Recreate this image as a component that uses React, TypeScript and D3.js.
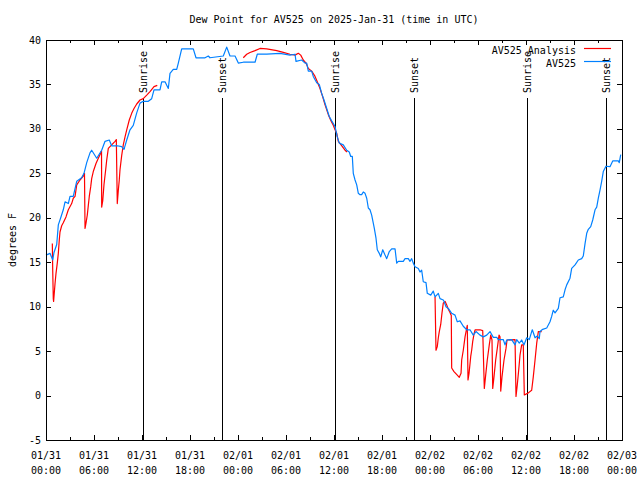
import React from "react";
import * as d3 from "d3";

const TITLE = "Dew Point for AV525 on 2025-Jan-31 (time in UTC)";
const Y_LABEL = "degrees F";
const START = Date.UTC(2025, 0, 31, 0, 0);
const END = Date.UTC(2025, 1, 3, 0, 0);
const Y_TICKS = [-5, 0, 5, 10, 15, 20, 25, 30, 35, 40];

// [hours since 01/31 00:00 UTC, dew point F]
const obsHours = [0.0,0.5,0.84,1.0,1.34,1.54,1.84,2.16,2.38,2.79,3.0,3.41,3.84,4.46,4.75,5.09,5.5,5.71,6.34,6.96,7.38,7.91,8.21,8.91,9.46,9.75,10.09,10.5,10.91,11.34,11.75,12.16,12.79,13.21,13.5,14.25,14.46,14.88,15.29,15.5,15.91,16.34,16.54,16.96,18.41,18.75,19.88,20.29,20.5,22.16,22.59,23.0,23.63,24.04,24.66,26.13,26.41,27.59,29.25,30.5,31.13,31.25,31.96,32.38,32.59,32.79,33.21,33.41,33.84,34.16,34.46,34.75,35.09,35.41,35.71,35.91,36.13,36.41,36.66,37.16,37.59,37.91,38.09,38.29,38.41,38.63,38.84,39.04,39.25,39.46,39.66,39.88,40.09,40.29,40.5,40.71,40.91,41.04,41.25,41.41,41.66,41.84,42.09,42.38,42.59,42.91,43.21,43.63,43.84,44.04,44.66,44.88,45.29,45.5,45.71,45.91,46.13,46.54,46.75,46.96,47.16,47.5,47.66,48.09,48.41,48.63,49.04,49.25,49.66,49.75,50.0,50.29,50.71,51.13,51.41,51.75,52.16,52.59,53.0,53.41,53.75,54.25,54.66,55.09,55.5,55.91,56.34,56.54,57.16,57.38,57.59,58.21,58.63,58.84,59.16,59.46,59.75,60.09,60.41,60.71,60.79,61.13,61.41,61.66,61.75,62.09,62.59,63.0,63.21,63.41,63.63,64.04,64.25,64.66,64.88,65.09,65.5,65.71,66.13,66.54,66.96,67.16,67.38,67.59,67.79,68.09,68.34,68.63,68.84,69.04,69.25,69.46,69.66,70.0,70.5,70.84,71.54,71.66,71.84];
const obsValues = [15.8,16.0,15.25,16.1,17.0,19.2,20.0,20.9,21.8,21.6,22.4,22.4,24.1,24.5,25.0,26.2,27.3,27.6,26.7,27.6,28.6,28.75,28.1,28.1,28.0,27.7,28.75,29.9,30.4,31.8,32.9,33.1,33.1,33.4,34.4,34.4,35.3,35.3,34.55,36.25,36.7,36.7,37.4,39.0,39.0,38.0,38.0,38.2,38.0,38.2,39.2,38.2,38.2,37.4,37.5,37.5,38.4,38.4,38.5,38.3,38.4,37.6,37.75,37.4,37.4,36.5,36.5,35.9,35.2,35.0,34.0,33.25,32.3,31.4,30.9,30.6,30.25,29.1,28.4,28.2,27.6,27.4,26.9,26.9,25.0,24.25,23.7,22.75,22.6,22.6,22.9,22.75,22.2,21.1,20.9,20.3,19.4,18.8,17.7,16.4,16.0,15.6,16.4,15.8,15.4,16.2,16.5,16.5,14.9,15.1,15.1,15.4,15.4,15.1,15.4,14.9,14.5,14.3,13.9,14.1,12.8,12.7,11.5,11.3,11.75,11.1,11.5,10.9,10.75,10.6,10.0,9.8,9.25,9.05,8.3,8.4,7.8,7.4,7.4,6.8,7.2,6.8,6.6,6.8,7.2,6.55,6.55,6.3,6.3,5.7,6.25,6.3,5.7,6.3,5.9,6.25,5.7,6.5,6.3,7.2,7.4,6.5,6.7,6.4,7.2,7.45,7.6,8.3,8.9,9.6,9.3,9.8,11.0,11.1,11.9,12.45,13.2,14.3,14.7,15.25,15.4,15.7,17.1,18.25,18.7,19.0,19.75,20.9,21.2,22.2,23.1,24.1,25.2,25.8,25.75,26.4,26.4,26.2,27.1];

const ana1Hours = [0.79,0.84,0.91,0.95,1.13,1.25,1.41,1.54,1.66,1.75,1.96,2.16,2.5,2.79,3.21,3.41,3.63,3.84,4.25,4.66,4.81,4.88,5.0,5.16,5.29,5.41,5.59,5.71,5.91,6.25,6.54,6.84,6.94,6.96,7.09,7.25,7.46,7.59,7.79,8.21,8.63,8.79,8.91,9.04,9.16,9.25,9.46,9.66,9.88,10.09,10.41,10.71,11.0,11.34,11.75,12.16,12.59,13.0,13.5,13.91];
const ana1Values = [17.1,14.1,10.9,10.6,12.6,13.75,14.9,16.0,17.5,18.4,19.1,19.45,20.1,20.9,21.6,22.2,22.4,23.7,24.25,24.7,25.0,18.8,19.4,20.3,21.4,22.4,23.5,24.4,25.2,26.1,26.7,27.3,27.5,21.2,21.9,23.75,25.4,26.5,27.8,28.2,28.6,28.8,21.6,23.1,24.25,25.4,27.0,28.2,29.1,29.9,31.0,31.75,32.3,32.8,33.25,33.4,33.8,34.2,34.75,34.9];

const ana2Hours = [24.66,25.09,25.5,26.13,26.75,27.59,28.84,29.66,30.5,31.13,31.54,31.84,32.16,32.5,32.79,33.21,33.63,33.91,34.25,34.59,34.88,35.29,35.63,35.91,36.13,36.34,36.54,36.88,37.38,37.63];
const ana2Values = [38.0,38.4,38.6,38.8,39.05,39.0,38.8,38.6,38.4,38.3,38.5,38.3,37.75,37.4,36.8,36.5,35.9,35.3,34.55,33.6,32.7,31.6,30.9,30.4,29.9,29.5,28.6,28.2,27.6,27.4];

const ana3Hours = [48.63,48.75,48.91,49.04,49.16,49.34,49.5,49.66,49.88,50.09,50.29,50.5,50.66,50.71,51.0,51.41,51.66,51.88,51.96,52.16,52.38,52.59,52.66,52.75,52.88,53.09,53.21,53.34,53.5,53.63,54.25,54.59,54.79,54.96,55.16,55.41,55.59,55.75,55.84,56.0,56.21,56.41,56.63,56.75,56.84,57.0,57.25,57.5,57.63,58.63,58.75,58.91,59.09,59.25,59.46,59.66,59.79,60.29,60.71,60.91,61.13,61.34,61.54,61.96];
const ana3Values = [11.1,5.1,5.5,6.5,7.2,8.0,9.3,10.4,10.6,10.2,9.7,9.35,9.0,3.1,2.7,2.3,2.05,2.5,4.0,5.1,6.6,7.6,7.9,1.75,2.5,4.4,5.1,6.1,6.9,7.4,7.4,7.3,0.8,2.3,4.0,5.7,6.8,6.25,0.8,2.1,4.0,5.3,6.8,6.6,0.5,2.1,4.0,5.3,6.25,6.3,-0.1,1.2,2.9,4.55,5.7,5.7,0.06,0.3,0.6,2.1,4.0,5.9,7.2,7.2];

const sunHours = [12.15, 22.05, 36.12, 46.05, 60.08, 70.05];
const sunLabels = ["Sunrise", "Sunset", "Sunrise", "Sunset", "Sunrise", "Sunset"];

const legendLabels = ["AV525 Analysis", "AV525"];
const RED = "#ff0000";
const BLUE = "#0080ff";
const FONT = "'DejaVu Sans Mono', monospace";

export default function App() {
  const W = 640, H = 480;
  const L = 46, R = 622, T = 40, B = 440;
  const x = d3.scaleUtc().domain([new Date(START), new Date(END)]).range([L, R]);
  const y = d3.scaleLinear().domain([-5, 40]).range([B, T]);
  const hx = (h: number) => x(new Date(START + h * 3600000));
  const line = d3.line<[number, number]>().x(d => hx(d[0])).y(d => y(d[1]));
  const zip = (a: number[], b: number[]) => a.map((v, i) => [v, b[i]] as [number, number]);

  const majorTicks = x.ticks(d3.utcHour.every(6)!);
  const minorTicks = x.ticks(d3.utcHour.every(3)!).filter(t => t.getUTCHours() % 6 !== 0);
  const fmtDate = d3.utcFormat("%m/%d");
  const fmtTime = d3.utcFormat("%H:%M");

  return (
    <svg width={W} height={H} style={{ position: "absolute", left: 0, top: 0, background: "#fff" }} fontFamily={FONT} fontSize={10}>
      <rect x={0} y={0} width={W} height={H} fill="#fff" />
      <text x={334} y={23} textAnchor="middle">{TITLE}</text>
      <text transform={`translate(12,240) rotate(-90)`} textAnchor="middle" dominantBaseline="central">{Y_LABEL}</text>

      {/* y ticks */}
      <g shapeRendering="crispEdges" stroke="#000">
        {Y_TICKS.map(v => (
          <g key={v}>
            <line x1={L} x2={L + 5} y1={Math.round(y(v)) + 0.5} y2={Math.round(y(v)) + 0.5} />
            <line x1={R} x2={R - 5} y1={Math.round(y(v)) + 0.5} y2={Math.round(y(v)) + 0.5} />
          </g>
        ))}
        {majorTicks.map(t => (
          <g key={+t}>
            <line x1={Math.round(x(t)) + 0.5} x2={Math.round(x(t)) + 0.5} y1={B} y2={B - 5} />
            <line x1={Math.round(x(t)) + 0.5} x2={Math.round(x(t)) + 0.5} y1={T} y2={T + 5} />
          </g>
        ))}
        {minorTicks.map(t => (
          <g key={+t}>
            <line x1={Math.round(x(t)) + 0.5} x2={Math.round(x(t)) + 0.5} y1={B} y2={B - 3} />
            <line x1={Math.round(x(t)) + 0.5} x2={Math.round(x(t)) + 0.5} y1={T} y2={T + 3} />
          </g>
        ))}
      </g>
      {Y_TICKS.map(v => (
        <text key={v} x={41} y={y(v)} textAnchor="end" dominantBaseline="central">{v}</text>
      ))}
      {majorTicks.map(t => (
        <g key={+t}>
          <text x={x(t)} y={459} textAnchor="middle">{fmtDate(t)}</text>
          <text x={x(t)} y={474} textAnchor="middle">{fmtTime(t)}</text>
        </g>
      ))}

      {/* sunrise / sunset */}
      {sunHours.map((h, i) => (
        <g key={i}>
          <line x1={Math.round(hx(h)) + 0.5} x2={Math.round(hx(h)) + 0.5} y1={98} y2={B} stroke="#000" shapeRendering="crispEdges" />
          <text transform={`translate(${Math.round(hx(h)) + 0.5},93) rotate(-90)`} textAnchor="start" dominantBaseline="central">{sunLabels[i]}</text>
        </g>
      ))}

      {/* data */}
      <g fill="none" strokeWidth={1.2} strokeLinejoin="round">
        <path d={line(zip(ana1Hours, ana1Values))!} stroke={RED} />
        <path d={line(zip(ana2Hours, ana2Values))!} stroke={RED} />
        <path d={line(zip(ana3Hours, ana3Values))!} stroke={RED} />
        <path d={line(zip(obsHours, obsValues))!} stroke={BLUE} />
      </g>

      {/* legend */}
      <text x={576} y={50} textAnchor="end" dominantBaseline="central">{legendLabels[0]}</text>
      <line x1={584} x2={611} y1={48.5} y2={48.5} stroke={RED} strokeWidth={1.2} />
      <text x={576} y={63} textAnchor="end" dominantBaseline="central">{legendLabels[1]}</text>
      <line x1={584} x2={611} y1={61.5} y2={61.5} stroke={BLUE} strokeWidth={1.2} />

      <rect x={L + 0.5} y={T + 0.5} width={R - L} height={B - T} fill="none" stroke="#000" shapeRendering="crispEdges" />
    </svg>
  );
}
